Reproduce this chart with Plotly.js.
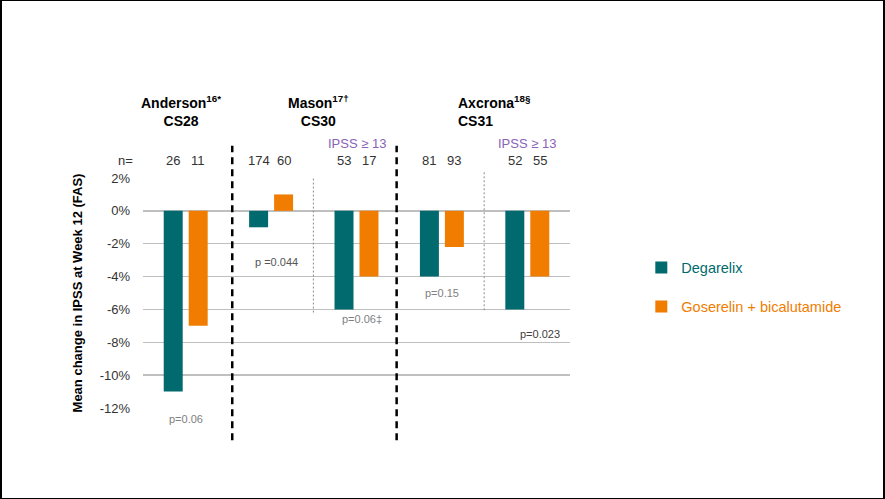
<!DOCTYPE html>
<html>
<head>
<meta charset="utf-8">
<script src="https://cdn.plot.ly/plotly-3.0.1.min.js"></script>
<style>
html,body{margin:0;padding:0;background:#fff;}
#wrap{position:relative;width:885px;height:499px;}
#chart{width:885px;height:499px;}
#frame{position:absolute;left:0;top:0;width:885px;height:499px;box-sizing:border-box;border-left:2px solid #000;border-right:2px solid #000;border-top:1px solid #000;border-bottom:1px solid #000;pointer-events:none;}
</style>
</head>
<body>
<div id="wrap"><div id="chart"></div><div id="frame"></div></div>
<script>
const categories = ['Anderson CS28', 'Mason CS30', 'Mason CS30 IPSS≥13', 'Axcrona CS31', 'Axcrona CS31 IPSS≥13'];
const degarelix = [-11, -1, -6, -4, -6];
const goserelin = [-7, 1, -4, -2.2, -4];
const nDegarelix = [26, 174, 53, 81, 52];
const nGoserelin = [11, 60, 17, 93, 55];
const pLabels = ['p=0.06', 'p =0.044', 'p=0.06‡', 'p=0.15', 'p=0.023'];
const pY = [-12.65, -3.1, -6.6, -5.0, -7.5];
const pDx = [0, 0.06, 0.07, 0, 0.15];
const pColors = ['#808080', '#555555', '#808080', '#808080', '#404040'];
const yTicks = [2, 0, -2, -4, -6, -8, -10, -12];
const yTickText = ['2%', '0%', '-2%', '-4%', '-6%', '-8%', '-10%', '-12%'];

const teal = '#006a6e';
const orange = '#f07d00';
const xIdx = categories.map((c, i) => i);
const FONT = 'Arial, Liberation Sans, sans-serif';
const yMin = -12, yMax = 2;

const traces = [
  {type: 'bar', x: xIdx, y: degarelix, name: '<span style="color:' + teal + '">Degarelix</span>',
   marker: {color: teal}, legendgroup: 'a', hoverinfo: 'y'},
  {type: 'bar', x: xIdx, y: goserelin, name: '<span style="color:' + orange + '">Goserelin + bicalutamide</span>',
   marker: {color: orange}, legendgroup: 'b', hoverinfo: 'y'}
];

const off = 0.146;
const annotations = [];
const txt = '#333333';
function ann(o) { o.showarrow = false; if (!o.xanchor) o.xanchor = 'center'; if (!o.yanchor) o.yanchor = 'middle'; annotations.push(o); }
// n labels
ann({xref: 'paper', yref: 'paper', x: -0.04, y: 1.074, text: 'n=', font: {family: FONT, size: 13, color: txt}});
xIdx.forEach(i => {
  ann({xref: 'x', yref: 'paper', x: i - off, y: 1.074, text: String(nDegarelix[i]), font: {family: FONT, size: 13, color: txt}});
  ann({xref: 'x', yref: 'paper', x: i + off, y: 1.074, text: String(nGoserelin[i]), font: {family: FONT, size: 13, color: txt}});
  ann({xref: 'x', yref: 'paper', x: i + pDx[i], y: (pY[i] - yMin) / (yMax - yMin), text: pLabels[i],
    font: {family: FONT, size: 11, color: pColors[i]}});
});
// IPSS >= 13 labels
[2, 4].forEach(i => {
  ann({xref: 'x', yref: 'paper', x: i, y: 1.152, text: 'IPSS ≥ 13', font: {family: FONT, size: 13, color: '#8a62b8'}});
});
// Study headers
const hfont = {family: FONT, size: 14, color: '#000'};
ann({xref: 'paper', yref: 'paper', x: (181 - 143) / 427, y: 1.29, align: 'center',
  text: '<b>Anderson<sup>16*</sup></b><br><b>CS28</b>', font: hfont});
ann({xref: 'paper', yref: 'paper', x: (318 - 143) / 427, y: 1.29, align: 'center',
  text: '<b>Mason<sup>17†</sup></b><br><b>CS30</b>', font: hfont});
ann({xref: 'paper', yref: 'paper', x: (456 - 143) / 427, xanchor: 'left', y: 1.29, align: 'left',
  text: '<b>Axcrona<sup>18§</sup></b><br><b>CS31</b>', font: hfont});

const shapes = [
  {type: 'line', xref: 'paper', yref: 'paper', x0: 0.209, x1: 0.209, y0: -0.14, y1: 1.14,
   line: {color: '#000', width: 2.5, dash: '7px,5px'}},
  {type: 'line', xref: 'paper', yref: 'paper', x0: 0.594, x1: 0.594, y0: -0.14, y1: 1.14,
   line: {color: '#000', width: 2.5, dash: '7px,5px'}},
  {type: 'line', xref: 'paper', yref: 'paper', x0: 0.399, x1: 0.399, y0: 0.415, y1: 1.005,
   line: {color: '#8c8c8c', width: 1, dash: '2px,2px'}},
  {type: 'line', xref: 'paper', yref: 'paper', x0: 0.799, x1: 0.799, y0: 0.425, y1: 1.03,
   line: {color: '#8c8c8c', width: 1, dash: '2px,2px'}}
];

const layout = {
  width: 885, height: 499,
  margin: {l: 143, r: 315, t: 178, b: 91},
  paper_bgcolor: '#fff', plot_bgcolor: '#fff',
  barmode: 'group', bargap: 0.415, bargroupgap: 0.24,
  showlegend: true,
  legend: {x: 1.167, y: 0.68, xanchor: 'left', yanchor: 'top', traceorder: 'grouped', tracegroupgap: 17,
    font: {family: FONT, size: 14.5}, bgcolor: 'rgba(0,0,0,0)'},
  xaxis: {type: 'linear', range: [-0.5, 4.5], showticklabels: false, showgrid: false, zeroline: false,
    showline: false, ticks: '', fixedrange: true},
  yaxis: {range: [yMin, yMax], tickvals: yTicks, ticktext: yTickText, showgrid: true, gridcolor: '#bfbfbf', gridwidth: 1.5,
    zeroline: false, showline: false, ticks: '', ticklabelstandoff: 12,
    tickfont: {family: FONT, size: 13, color: '#333'},
    title: {text: '<b>Mean change in IPSS at Week 12 (FAS)</b>', standoff: 14,
      font: {family: FONT, size: 13, color: '#000'}}},
  annotations: annotations,
  shapes: shapes
};

Plotly.newPlot('chart', traces, layout, {displayModeBar: false, staticPlot: true});
</script>
</body>
</html>
